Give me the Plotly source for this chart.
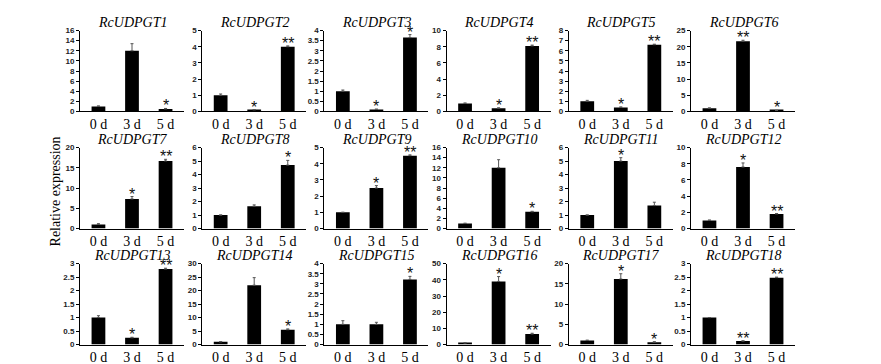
import plotly.graph_objects as go

W, H = 881, 364

categories = ["0 d", "3 d", "5 d"]
genes = [f"RcUDPGT{i}" for i in range(1, 19)]

values = [
    [1, 12, 0.5], [1, 0.1, 4.0], [1, 0.1, 3.65], [1, 0.4, 8.1], [1, 0.4, 6.6], [1, 21.7, 0.3],
    [1, 7.3, 16.7], [1, 1.65, 4.7], [1, 2.5, 4.5], [1, 12, 3.3], [1, 5.0, 1.7], [1, 7.6, 1.8],
    [1, 0.25, 2.8], [1, 22, 5.5], [1, 1.0, 3.22], [1, 39, 6.5], [1, 16.2, 0.6], [1, 0.13, 2.48],
]
errors = [
    [0.1, 1.4, 0.1], [0.08, 0.02, 0.05], [0.06, 0.02, 0.15], [0.05, 0.05, 0.1], [0.1, 0.05, 0.05], [0.1, 0.3, 0.05],
    [0.2, 0.6, 0.4], [0.0, 0.1, 0.35], [0.0, 0.15, 0.05], [0.05, 1.6, 0.1], [0.0, 0.25, 0.25], [0.05, 0.5, 0.05],
    [0.07, 0.02, 0.03], [0.1, 2.8, 0.3], [0.18, 0.1, 0.15], [0.1, 3.0, 0.5], [0.1, 1.3, 0.1], [0.0, 0.01, 0.02],
]
stars = [
    ["", "", "*"], ["", "*", "**"], ["", "*", "*"], ["", "*", "**"], ["", "*", "**"], ["", "**", "*"],
    ["", "*", "**"], ["", "", "*"], ["", "*", "**"], ["", "", "*"], ["", "*", ""], ["", "*", "**"],
    ["", "*", "**"], ["", "", "*"], ["", "", "*"], ["", "*", "**"], ["", "*", "*"], ["", "**", "**"],
]
y_max = [16, 5, 4, 10, 8, 25, 20, 6, 5, 16, 6, 10, 3, 30, 4, 50, 20, 3]
y_step = [2, 1, 0.5, 2, 1, 5, 5, 1, 1, 2, 1, 2, 0.5, 5, 0.5, 10, 5, 0.5]

ylabel = "Relative expression"

fig = go.Figure()

row_top = [19, 139, 258]
row_bot = [102, 222, 341]
col_x0 = [72 + 122.2 * i for i in range(6)]
panel_w = 104

serif = "Liberation Serif, Times New Roman, serif"
sans = "Liberation Sans, Arial, sans-serif"

annotations = []
for k in range(18):
    r, c = divmod(k, 6)
    n = k + 1
    xa = f"xaxis{n if n > 1 else ''}"
    ya = f"yaxis{n if n > 1 else ''}"
    xref = f"x{n if n > 1 else ''}"
    yref = f"y{n if n > 1 else ''}"
    fig.add_trace(go.Bar(
        x=categories, y=values[k], xaxis=xref, yaxis=yref,
        marker=dict(color="black", line=dict(width=0)), width=0.41,
        error_y=dict(type="data", array=errors[k], arrayminus=[0, 0, 0], symmetric=False,
                     color="#555555", thickness=1, width=1.5),
        showlegend=False, hoverinfo="skip",
    ))
    x0 = col_x0[c] / W
    x1 = (col_x0[c] + panel_w) / W
    y0 = 1 - row_bot[r] / H
    y1 = 1 - row_top[r] / H
    fig.layout[xa] = dict(
        domain=[x0, x1], anchor=yref, range=[-0.55, 2.55], type="category",
        showline=True, linecolor="black", linewidth=1, ticks="",
        tickfont=dict(family=serif, size=14, color="black"), showgrid=False, zeroline=False,
        fixedrange=True,
    )
    fig.layout[ya] = dict(
        domain=[y0, y1], anchor=xref, range=[0, y_max[k]], dtick=y_step[k], tick0=0,
        showline=True, linecolor="black", linewidth=1, ticks="outside", ticklen=3,
        tickcolor="black", tickwidth=1,
        tickfont=dict(family=sans, size=8, color="#222222", weight="bold"),
        showgrid=False, zeroline=False, fixedrange=True,
    )
    # title
    annotations.append(dict(
        text=f"<i>{genes[k]}</i>", xref="paper", yref="paper",
        x=(x0 + x1) / 2, y=y1, yanchor="bottom", xanchor="center", yshift=-1,
        showarrow=False, font=dict(family=serif, size=14, color="black"),
    ))
    for i in range(3):
        if stars[k][i]:
            annotations.append(dict(
                text=stars[k][i], xref=xref, yref=yref, x=categories[i],
                y=values[k][i] + errors[k][i], yanchor="bottom", xanchor="center",
                yshift=-8, showarrow=False,
                font=dict(family=sans, size=16, color="#111111"),
            ))

annotations.append(dict(
    text=ylabel, xref="paper", yref="paper", x=47 / W, y=1 - 184 / H,
    xanchor="center", yanchor="middle", textangle=-90, showarrow=False,
    font=dict(family=serif, size=14, color="black"),
))

fig.update_layout(
    width=W, height=H, margin=dict(l=0, r=0, t=0, b=0),
    paper_bgcolor="white", plot_bgcolor="white",
    annotations=annotations, bargap=0.5,
)

fig.write_html("out.html")
